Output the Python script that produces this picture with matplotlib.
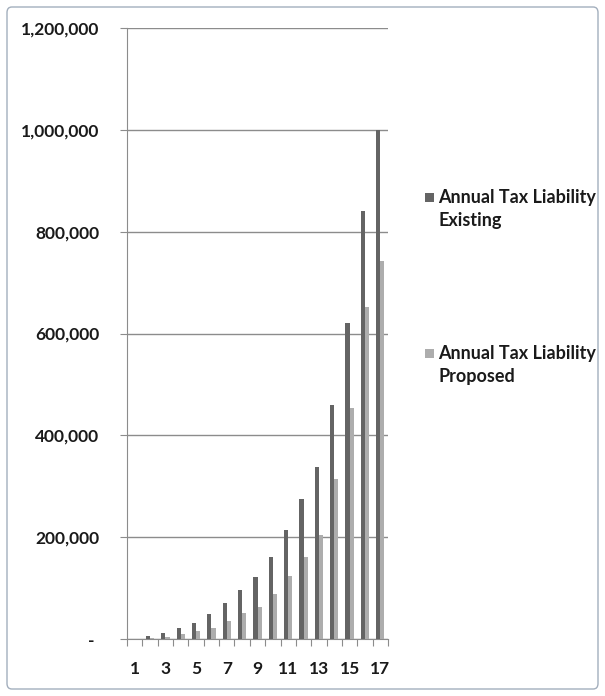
"""Annual tax liability, existing vs proposed, by bracket.
"""
import numpy as np
import matplotlib
matplotlib.use('Agg')
import matplotlib.pyplot as plt
from matplotlib.patches import FancyBboxPatch, Rectangle
from matplotlib.ticker import FuncFormatter

# data
categories = list(range(1, 18))
existing = [800, 5500, 12000, 21000, 31000, 49000, 70000, 96000, 121000,
            161000, 214000, 275000, 337000, 459000, 621000, 841000, 1000000]
proposed = [300, 1500, 4000, 10000, 16000, 22000, 35000, 51000, 63000,
            88000, 124000, 161000, 204000, 314000, 453000, 653000, 743000]
labels = ['Annual Tax Liability\nExisting', 'Annual Tax Liability\nProposed']
colors = ['#646464', '#adadad']

W, H = 605, 696
plt.rcParams['font.family'] = ['Lato', 'DejaVu Sans']
fig = plt.figure(figsize=(W / 100, H / 100), dpi=100)

# outer chart border (excel style)
border = FancyBboxPatch((7 / W, 7 / H), 591 / W, 682 / H,
                        boxstyle='round,pad=0,rounding_size=0.008',
                        transform=fig.transFigure, fill=False,
                        edgecolor='#a3afbd', linewidth=1.0)
fig.patches.append(border)

ax = fig.add_axes([127 / W, 1 - 639 / H, 261 / W, 611 / H])

x = np.arange(len(categories))
bw = 0.27
ax.bar(x - bw / 2, existing, bw, color=colors[0], zorder=3)
ax.bar(x + bw / 2, proposed, bw, color=colors[1], zorder=3)

ax.set_xlim(-0.5, len(categories) - 0.5)
ax.set_ylim(0, 1200000)
ax.set_yticks(np.arange(0, 1200001, 200000))
ax.yaxis.set_major_formatter(FuncFormatter(lambda v, p: '- ' if v == 0 else f'{int(v):,}'))
ax.grid(axis='y', color='#8c8c8c', linewidth=1.0, zorder=0)

# tick marks between categories, labels on every other category
ax.set_xticks(np.arange(len(categories) + 1) - 0.5)
ax.set_xticklabels([])
ax.set_xticks(x[::2], minor=True)
ax.set_xticklabels([str(c) for c in categories[::2]], minor=True)

for s in ['top', 'right']:
    ax.spines[s].set_visible(False)
for s in ['left', 'bottom']:
    ax.spines[s].set_color('#8c8c8c')

ax.tick_params(axis='x', which='major', length=5, color='#8c8c8c')
ax.tick_params(axis='x', which='minor', length=0, pad=16, labelsize=12.5, labelcolor='#1a1a1a')
ax.tick_params(axis='y', length=5, color='#8c8c8c', pad=15, labelsize=12.5, labelcolor='#1a1a1a')
for t in ax.get_xticklabels(minor=True) + ax.get_yticklabels():
    t.set_fontweight('bold')

# legend on the right
leg_y = [197, 353]
for lab, col, yy in zip(labels, colors, leg_y):
    fig.patches.append(Rectangle((425 / W, 1 - (yy + 5) / H), 9 / W, 9 / H,
                                 transform=fig.transFigure, facecolor=col, edgecolor='none'))
    fig.text(438 / W, 1 - (yy + 12) / H, lab, ha='left', va='center', fontsize=13,
             fontweight='bold', color='#1a1a1a', linespacing=1.4)

plt.savefig('out.png', dpi=100)
